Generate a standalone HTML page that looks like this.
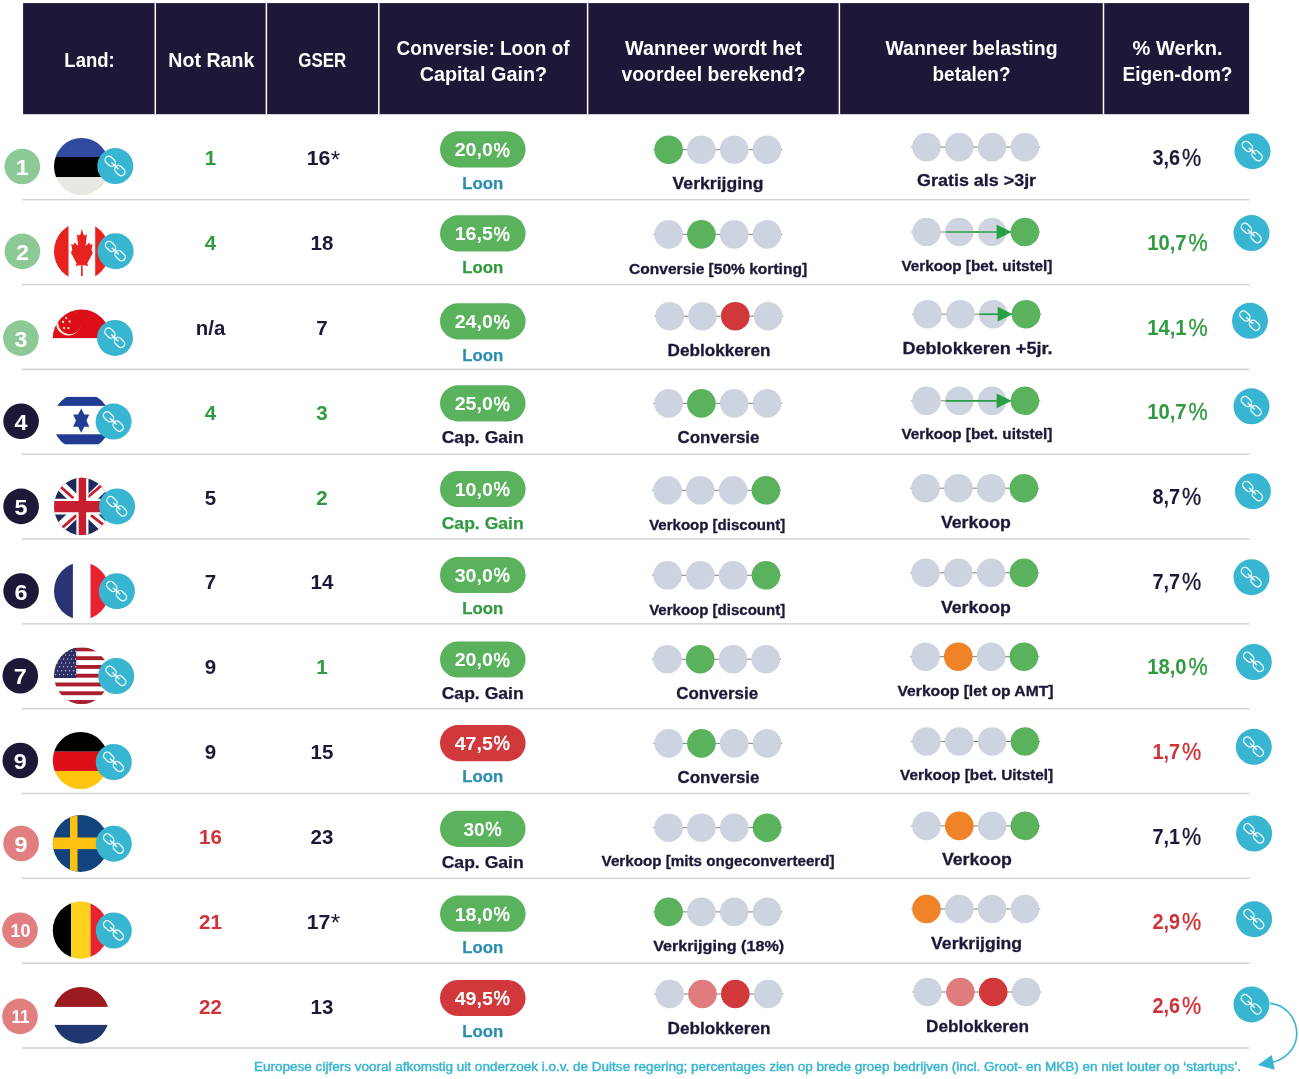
<!DOCTYPE html>
<html lang="nl"><head><meta charset="utf-8"><title>Ranking</title>
<style>html,body{margin:0;padding:0;background:#fff}svg{display:block}text{font-family:"Liberation Sans",sans-serif}</style>
</head><body>
<svg width="1299" height="1079" viewBox="0 0 1299 1079">
<rect x="23.1" y="3.1" width="1226.0" height="111.1" fill="#1e1738"/>
<rect x="154.55" y="3.1" width="1.5" height="111.1" fill="#fff"/>
<rect x="265.65" y="3.1" width="1.5" height="111.1" fill="#fff"/>
<rect x="378.05" y="3.1" width="1.5" height="111.1" fill="#fff"/>
<rect x="586.85" y="3.1" width="1.5" height="111.1" fill="#fff"/>
<rect x="838.65" y="3.1" width="1.5" height="111.1" fill="#fff"/>
<rect x="1102.75" y="3.1" width="1.5" height="111.1" fill="#fff"/>
<text x="89.5" y="67.1" font-size="20" font-weight="bold" fill="#fff" text-anchor="middle" textLength="50.3" lengthAdjust="spacingAndGlyphs">Land:</text>
<text x="211.3" y="67.1" font-size="20" font-weight="bold" fill="#fff" text-anchor="middle" textLength="86.0" lengthAdjust="spacingAndGlyphs">Not Rank</text>
<text x="322.3" y="67.1" font-size="20" font-weight="bold" fill="#fff" text-anchor="middle" textLength="48.0" lengthAdjust="spacingAndGlyphs">GSER</text>
<text x="483.1" y="54.5" font-size="20" font-weight="bold" fill="#fff" text-anchor="middle" textLength="173.0" lengthAdjust="spacingAndGlyphs">Conversie: Loon of</text>
<text x="483.4" y="80.5" font-size="20" font-weight="bold" fill="#fff" text-anchor="middle" textLength="127.5" lengthAdjust="spacingAndGlyphs">Capital Gain?</text>
<text x="713.5" y="54.5" font-size="20" font-weight="bold" fill="#fff" text-anchor="middle" textLength="177.0" lengthAdjust="spacingAndGlyphs">Wanneer wordt het</text>
<text x="713.5" y="80.5" font-size="20" font-weight="bold" fill="#fff" text-anchor="middle" textLength="184.0" lengthAdjust="spacingAndGlyphs">voordeel berekend?</text>
<text x="971.5" y="54.5" font-size="20" font-weight="bold" fill="#fff" text-anchor="middle" textLength="172.0" lengthAdjust="spacingAndGlyphs">Wanneer belasting</text>
<text x="971.5" y="80.5" font-size="20" font-weight="bold" fill="#fff" text-anchor="middle" textLength="78.0" lengthAdjust="spacingAndGlyphs">betalen?</text>
<text x="1177.5" y="54.5" font-size="20" font-weight="bold" fill="#fff" text-anchor="middle" textLength="90.0" lengthAdjust="spacingAndGlyphs">% Werkn.</text>
<text x="1177.5" y="80.5" font-size="20" font-weight="bold" fill="#fff" text-anchor="middle" textLength="110.0" lengthAdjust="spacingAndGlyphs">Eigen-dom?</text>
<rect x="22" y="198.95" width="1227.5" height="1.5" fill="#d2d2d2"/>
<circle cx="22.3" cy="166.5" r="17.8" fill="#8dc897"/>
<text x="22.3" y="175.0" font-size="21.5" font-weight="bold" fill="#fff" text-anchor="middle" textLength="13.0" lengthAdjust="spacingAndGlyphs">1</text>
<g transform="translate(81.6,166.5)"><clipPath id="cee"><ellipse rx="27.6" ry="28.6"/></clipPath><g clip-path="url(#cee)">
<rect x="-31.00" y="-31.00" width="62.00" height="21.50" fill="#2f4a9f"/>
<rect x="-31.00" y="-9.50" width="62.00" height="20.00" fill="#000"/>
<rect x="-31.00" y="10.50" width="62.00" height="31.00" fill="#e9e7e2"/>
</g></g>
<g transform="translate(115.3,166.1)"><circle r="18.0" fill="#38b6d1"/><g fill="none" stroke="#fff" stroke-width="1.35" stroke-opacity="0.93" transform="rotate(44)"><rect x="-12.7" y="-3.6" width="11.4" height="7.4" rx="3.7"/><rect x="0.7" y="-3.6" width="11.4" height="7.4" rx="3.7"/><path d="M-5.2 0.1H4.6" stroke-width="1.4"/></g></g>
<text x="210.5" y="165.0" font-size="20.5" font-weight="bold" fill="#2f9a3f" text-anchor="middle">1</text>
<text x="318.5" y="165.0" font-size="20.5" font-weight="bold" fill="#1e1738" text-anchor="middle" textLength="23.6" lengthAdjust="spacingAndGlyphs">16</text>
<text x="335.4" y="167.5" font-size="24" font-weight="normal" fill="#1e1738" text-anchor="middle">*</text>
<rect x="440.0" y="131.3" width="85.6" height="36.2" rx="18.1" fill="#5ab25c"/>
<text x="454.7" y="156.4" font-size="19.2" font-weight="bold" fill="#fff" text-anchor="start" textLength="38.2" lengthAdjust="spacingAndGlyphs">20,0</text>
<text x="493.5" y="156.7" font-size="20.5" font-weight="normal" fill="#fff" stroke="#fff" stroke-width="0.55" text-anchor="start" textLength="16.4" lengthAdjust="spacingAndGlyphs">%</text>
<text x="482.7" y="188.5" font-size="17.3" font-weight="bold" fill="#2a8daf" stroke="#2a8daf" stroke-width="0.25" text-anchor="middle" textLength="41.0" lengthAdjust="spacingAndGlyphs">Loon</text>
<path d="M653.3 149.7H782.3" stroke="#7d7e85" stroke-width="1"/>
<circle cx="668.6" cy="149.7" r="14.3" fill="#5ab25c"/>
<circle cx="701.4" cy="149.7" r="14.3" fill="#cdd3df"/>
<circle cx="734.2" cy="149.7" r="14.3" fill="#cdd3df"/>
<circle cx="767.0" cy="149.7" r="14.3" fill="#cdd3df"/>
<text x="718.1" y="188.8" font-size="17.3" font-weight="bold" fill="#1e1738" stroke="#1e1738" stroke-width="0.3" text-anchor="middle" textLength="91.0" lengthAdjust="spacingAndGlyphs">Verkrijging</text>
<path d="M911.2 147.1H1040.2" stroke="#7d7e85" stroke-width="1"/>
<circle cx="926.5" cy="147.1" r="14.3" fill="#cdd3df"/>
<circle cx="959.3" cy="147.1" r="14.3" fill="#cdd3df"/>
<circle cx="992.1" cy="147.1" r="14.3" fill="#cdd3df"/>
<circle cx="1024.9" cy="147.1" r="14.3" fill="#cdd3df"/>
<text x="976.6" y="186.0" font-size="17.3" font-weight="bold" fill="#1e1738" stroke="#1e1738" stroke-width="0.3" text-anchor="middle" textLength="119.0" lengthAdjust="spacingAndGlyphs">Gratis als &gt;3jr</text>
<text x="1152.4" y="165.0" font-size="21.5" font-weight="bold" fill="#1e1738" text-anchor="start" textLength="27.6" lengthAdjust="spacingAndGlyphs">3,6</text>
<text x="1181.9" y="165.9" font-size="24.5" font-weight="normal" fill="#1e1738" stroke="#1e1738" stroke-width="0.35" text-anchor="start" textLength="19.2" lengthAdjust="spacingAndGlyphs">%</text>
<g transform="translate(1252.5,151.2)"><circle r="18.0" fill="#38b6d1"/><g fill="none" stroke="#fff" stroke-width="1.35" stroke-opacity="0.93" transform="rotate(44)"><rect x="-12.7" y="-3.6" width="11.4" height="7.4" rx="3.7"/><rect x="0.7" y="-3.6" width="11.4" height="7.4" rx="3.7"/><path d="M-5.2 0.1H4.6" stroke-width="1.4"/></g></g>
<rect x="22" y="283.78" width="1227.5" height="1.5" fill="#d2d2d2"/>
<circle cx="22.4" cy="251.4" r="17.8" fill="#8dc897"/>
<text x="22.4" y="259.9" font-size="21.5" font-weight="bold" fill="#fff" text-anchor="middle" textLength="13.0" lengthAdjust="spacingAndGlyphs">2</text>
<g transform="translate(81.6,251.4)"><clipPath id="cca"><ellipse rx="27.6" ry="28.8"/></clipPath><g clip-path="url(#cca)">
<rect x="-31.00" y="-31.00" width="17.90" height="62.00" fill="#e8231f"/>
<rect x="13.60" y="-31.00" width="31.00" height="62.00" fill="#e8231f"/>
<path fill="#e8231f" d="M0.3 -22.7L1.8 -17.0L3.3 -15.8L5.3 -17.2L4.1 -5.4L7.6 -8.9L8.7 -6.6L11.0 -7.4L9.9 -1.6L11.2 1.5L5.7 11.9L6.4 14.6L1.0 13.6L1.2 24.6L-0.6 24.6L-0.4 13.6L-5.8 14.6L-5.1 11.9L-10.6 1.5L-9.3 -1.6L-10.4 -7.4L-8.1 -6.6L-7.0 -8.9L-3.5 -5.4L-4.7 -17.2L-2.7 -15.8L-1.2 -17.0L0.3 -22.7Z"/>
</g></g>
<g transform="translate(115.6,251.2)"><circle r="18.0" fill="#38b6d1"/><g fill="none" stroke="#fff" stroke-width="1.35" stroke-opacity="0.93" transform="rotate(44)"><rect x="-12.7" y="-3.6" width="11.4" height="7.4" rx="3.7"/><rect x="0.7" y="-3.6" width="11.4" height="7.4" rx="3.7"/><path d="M-5.2 0.1H4.6" stroke-width="1.4"/></g></g>
<text x="210.5" y="249.8" font-size="20.5" font-weight="bold" fill="#2f9a3f" text-anchor="middle">4</text>
<text x="322.0" y="249.8" font-size="20.5" font-weight="bold" fill="#1e1738" text-anchor="middle">18</text>
<rect x="440.0" y="215.3" width="85.6" height="36.2" rx="18.1" fill="#5ab25c"/>
<text x="454.7" y="240.4" font-size="19.2" font-weight="bold" fill="#fff" text-anchor="start" textLength="38.2" lengthAdjust="spacingAndGlyphs">16,5</text>
<text x="493.5" y="240.7" font-size="20.5" font-weight="normal" fill="#fff" stroke="#fff" stroke-width="0.55" text-anchor="start" textLength="16.4" lengthAdjust="spacingAndGlyphs">%</text>
<text x="482.7" y="272.8" font-size="17.3" font-weight="bold" fill="#2f9a3f" stroke="#2f9a3f" stroke-width="0.25" text-anchor="middle" textLength="41.0" lengthAdjust="spacingAndGlyphs">Loon</text>
<path d="M653.3 234.4H782.3" stroke="#7d7e85" stroke-width="1"/>
<circle cx="668.6" cy="234.4" r="14.3" fill="#cdd3df"/>
<circle cx="701.4" cy="234.4" r="14.3" fill="#5ab25c"/>
<circle cx="734.2" cy="234.4" r="14.3" fill="#cdd3df"/>
<circle cx="767.0" cy="234.4" r="14.3" fill="#cdd3df"/>
<text x="718.1" y="274.1" font-size="14" font-weight="bold" fill="#1e1738" stroke="#1e1738" stroke-width="0.3" text-anchor="middle" textLength="178.0" lengthAdjust="spacingAndGlyphs">Conversie [50% korting]</text>
<path d="M911.2 232.0H1040.2" stroke="#7d7e85" stroke-width="1"/>
<circle cx="926.5" cy="232.0" r="14.3" fill="#cdd3df"/>
<circle cx="959.3" cy="232.0" r="14.3" fill="#cdd3df"/>
<circle cx="992.1" cy="232.0" r="14.3" fill="#cdd3df"/>
<circle cx="1024.9" cy="232.0" r="14.3" fill="#5ab25c"/>
<path d="M945.5 232.0H1003.1" stroke="#27a044" stroke-width="1.7"/>
<path d="M996.6 224.6L1011.6 232.0L996.6 239.4Z" fill="#27a044"/>
<text x="976.9" y="270.7" font-size="14" font-weight="bold" fill="#1e1738" stroke="#1e1738" stroke-width="0.3" text-anchor="middle" textLength="151.0" lengthAdjust="spacingAndGlyphs">Verkoop [bet. uitstel]</text>
<text x="1147.3" y="250.2" font-size="21.5" font-weight="bold" fill="#2f9a3f" text-anchor="start" textLength="39.3" lengthAdjust="spacingAndGlyphs">10,7</text>
<text x="1188.5" y="251.1" font-size="24.5" font-weight="normal" fill="#2f9a3f" stroke="#2f9a3f" stroke-width="0.35" text-anchor="start" textLength="19.2" lengthAdjust="spacingAndGlyphs">%</text>
<g transform="translate(1251.5,233.1)"><circle r="18.0" fill="#38b6d1"/><g fill="none" stroke="#fff" stroke-width="1.35" stroke-opacity="0.93" transform="rotate(44)"><rect x="-12.7" y="-3.6" width="11.4" height="7.4" rx="3.7"/><rect x="0.7" y="-3.6" width="11.4" height="7.4" rx="3.7"/><path d="M-5.2 0.1H4.6" stroke-width="1.4"/></g></g>
<rect x="22" y="368.61" width="1227.5" height="1.5" fill="#d2d2d2"/>
<circle cx="20.9" cy="338.1" r="17.8" fill="#8dc897"/>
<text x="20.9" y="346.6" font-size="21.5" font-weight="bold" fill="#fff" text-anchor="middle" textLength="13.0" lengthAdjust="spacingAndGlyphs">3</text>
<g transform="translate(81.6,338.1)"><clipPath id="csg"><ellipse rx="28.8" ry="28.5"/></clipPath><g clip-path="url(#csg)">
<rect x="-31.00" y="-31.00" width="62.00" height="31.00" fill="#dc0f19"/>
<circle cx="-13.1" cy="-15.1" r="12.5" fill="#fff3d8"/><circle cx="-11.7" cy="-15.6" r="11.7" fill="#dc0f19"/>
<circle cx="-15.4" cy="-20" r="1.1" fill="#fff5cf"/>
<circle cx="-18.5" cy="-16.2" r="1.1" fill="#fff5cf"/>
<circle cx="-12" cy="-16.5" r="1.1" fill="#fff5cf"/>
<circle cx="-17.4" cy="-10" r="1.1" fill="#fff5cf"/>
<circle cx="-13.1" cy="-10" r="1.1" fill="#fff5cf"/>
</g></g>
<g transform="translate(115.0,337.9)"><circle r="18.0" fill="#38b6d1"/><g fill="none" stroke="#fff" stroke-width="1.35" stroke-opacity="0.93" transform="rotate(44)"><rect x="-12.7" y="-3.6" width="11.4" height="7.4" rx="3.7"/><rect x="0.7" y="-3.6" width="11.4" height="7.4" rx="3.7"/><path d="M-5.2 0.1H4.6" stroke-width="1.4"/></g></g>
<text x="210.5" y="334.7" font-size="20.5" font-weight="bold" fill="#1e1738" text-anchor="middle" textLength="29.5" lengthAdjust="spacingAndGlyphs">n/a</text>
<text x="322.0" y="334.7" font-size="20.5" font-weight="bold" fill="#1e1738" text-anchor="middle">7</text>
<rect x="440.0" y="303.2" width="85.6" height="36.2" rx="18.1" fill="#5ab25c"/>
<text x="454.7" y="328.2" font-size="19.2" font-weight="bold" fill="#fff" text-anchor="start" textLength="38.2" lengthAdjust="spacingAndGlyphs">24,0</text>
<text x="493.5" y="328.5" font-size="20.5" font-weight="normal" fill="#fff" stroke="#fff" stroke-width="0.55" text-anchor="start" textLength="16.4" lengthAdjust="spacingAndGlyphs">%</text>
<text x="482.7" y="360.5" font-size="17.3" font-weight="bold" fill="#2a8daf" stroke="#2a8daf" stroke-width="0.25" text-anchor="middle" textLength="41.0" lengthAdjust="spacingAndGlyphs">Loon</text>
<path d="M654.4 316.2H783.4" stroke="#7d7e85" stroke-width="1"/>
<circle cx="669.7" cy="316.2" r="14.3" fill="#cdd3df"/>
<circle cx="702.5" cy="316.2" r="14.3" fill="#cdd3df"/>
<circle cx="735.3" cy="316.2" r="14.3" fill="#d0383b"/>
<circle cx="768.1" cy="316.2" r="14.3" fill="#cdd3df"/>
<text x="719.0" y="356.2" font-size="17.3" font-weight="bold" fill="#1e1738" stroke="#1e1738" stroke-width="0.3" text-anchor="middle" textLength="103.0" lengthAdjust="spacingAndGlyphs">Deblokkeren</text>
<path d="M912.3 314.2H1041.3" stroke="#7d7e85" stroke-width="1"/>
<circle cx="927.6" cy="314.2" r="14.3" fill="#cdd3df"/>
<circle cx="960.4" cy="314.2" r="14.3" fill="#cdd3df"/>
<circle cx="993.2" cy="314.2" r="14.3" fill="#cdd3df"/>
<circle cx="1026.0" cy="314.2" r="14.3" fill="#5ab25c"/>
<path d="M979.4 314.2H1004.2" stroke="#27a044" stroke-width="1.7"/>
<path d="M997.7 306.8L1012.7 314.2L997.7 321.6Z" fill="#27a044"/>
<text x="977.5" y="353.5" font-size="17.3" font-weight="bold" fill="#1e1738" stroke="#1e1738" stroke-width="0.3" text-anchor="middle" textLength="150.0" lengthAdjust="spacingAndGlyphs">Deblokkeren +5jr.</text>
<text x="1147.3" y="334.6" font-size="21.5" font-weight="bold" fill="#2f9a3f" text-anchor="start" textLength="39.3" lengthAdjust="spacingAndGlyphs">14,1</text>
<text x="1188.5" y="335.5" font-size="24.5" font-weight="normal" fill="#2f9a3f" stroke="#2f9a3f" stroke-width="0.35" text-anchor="start" textLength="19.2" lengthAdjust="spacingAndGlyphs">%</text>
<g transform="translate(1250.0,320.8)"><circle r="18.0" fill="#38b6d1"/><g fill="none" stroke="#fff" stroke-width="1.35" stroke-opacity="0.93" transform="rotate(44)"><rect x="-12.7" y="-3.6" width="11.4" height="7.4" rx="3.7"/><rect x="0.7" y="-3.6" width="11.4" height="7.4" rx="3.7"/><path d="M-5.2 0.1H4.6" stroke-width="1.4"/></g></g>
<rect x="22" y="453.44" width="1227.5" height="1.5" fill="#d2d2d2"/>
<circle cx="21.1" cy="421.3" r="17.8" fill="#1e1738"/>
<text x="21.1" y="429.8" font-size="21.5" font-weight="bold" fill="#fff" text-anchor="middle" textLength="13.0" lengthAdjust="spacingAndGlyphs">4</text>
<g transform="translate(81.6,421.3)"><clipPath id="cil"><ellipse rx="28.8" ry="28.6"/></clipPath><g clip-path="url(#cil)">
<rect x="-31.00" y="-24.40" width="62.00" height="9.00" fill="#223c93"/>
<rect x="-31.00" y="13.00" width="62.00" height="10.00" fill="#223c93"/>
<path fill="#223c93" transform="translate(-0.4,-0.7)" d="M0-12.1L3.100-6.050H8.100L5.200 0L8.100 6.050H3.100L0 12.100L-3.100 6.050H-8.100L-5.200 0L-8.100-6.050H-3.100Z"/>
</g></g>
<g transform="translate(113.6,421.6)"><circle r="18.0" fill="#38b6d1"/><g fill="none" stroke="#fff" stroke-width="1.35" stroke-opacity="0.93" transform="rotate(44)"><rect x="-12.7" y="-3.6" width="11.4" height="7.4" rx="3.7"/><rect x="0.7" y="-3.6" width="11.4" height="7.4" rx="3.7"/><path d="M-5.2 0.1H4.6" stroke-width="1.4"/></g></g>
<text x="210.5" y="419.6" font-size="20.5" font-weight="bold" fill="#2f9a3f" text-anchor="middle">4</text>
<text x="322.0" y="419.6" font-size="20.5" font-weight="bold" fill="#2f9a3f" text-anchor="middle">3</text>
<rect x="440.0" y="385.3" width="85.6" height="36.2" rx="18.1" fill="#5ab25c"/>
<text x="454.7" y="410.4" font-size="19.2" font-weight="bold" fill="#fff" text-anchor="start" textLength="38.2" lengthAdjust="spacingAndGlyphs">25,0</text>
<text x="493.5" y="410.7" font-size="20.5" font-weight="normal" fill="#fff" stroke="#fff" stroke-width="0.55" text-anchor="start" textLength="16.4" lengthAdjust="spacingAndGlyphs">%</text>
<text x="482.7" y="442.7" font-size="17.3" font-weight="bold" fill="#1e1738" stroke="#1e1738" stroke-width="0.25" text-anchor="middle" textLength="82.0" lengthAdjust="spacingAndGlyphs">Cap. Gain</text>
<path d="M653.3 403.4H782.3" stroke="#7d7e85" stroke-width="1"/>
<circle cx="668.6" cy="403.4" r="14.3" fill="#cdd3df"/>
<circle cx="701.4" cy="403.4" r="14.3" fill="#5ab25c"/>
<circle cx="734.2" cy="403.4" r="14.3" fill="#cdd3df"/>
<circle cx="767.0" cy="403.4" r="14.3" fill="#cdd3df"/>
<text x="718.5" y="443.4" font-size="17.3" font-weight="bold" fill="#1e1738" stroke="#1e1738" stroke-width="0.3" text-anchor="middle" textLength="82.0" lengthAdjust="spacingAndGlyphs">Conversie</text>
<path d="M911.2 400.8H1040.2" stroke="#7d7e85" stroke-width="1"/>
<circle cx="926.5" cy="400.8" r="14.3" fill="#cdd3df"/>
<circle cx="959.3" cy="400.8" r="14.3" fill="#cdd3df"/>
<circle cx="992.1" cy="400.8" r="14.3" fill="#cdd3df"/>
<circle cx="1024.9" cy="400.8" r="14.3" fill="#5ab25c"/>
<path d="M945.5 400.8H1003.1" stroke="#27a044" stroke-width="1.7"/>
<path d="M996.6 393.4L1011.6 400.8L996.6 408.2Z" fill="#27a044"/>
<text x="976.9" y="439.2" font-size="14" font-weight="bold" fill="#1e1738" stroke="#1e1738" stroke-width="0.3" text-anchor="middle" textLength="151.0" lengthAdjust="spacingAndGlyphs">Verkoop [bet. uitstel]</text>
<text x="1147.3" y="419.4" font-size="21.5" font-weight="bold" fill="#2f9a3f" text-anchor="start" textLength="39.3" lengthAdjust="spacingAndGlyphs">10,7</text>
<text x="1188.5" y="420.3" font-size="24.5" font-weight="normal" fill="#2f9a3f" stroke="#2f9a3f" stroke-width="0.35" text-anchor="start" textLength="19.2" lengthAdjust="spacingAndGlyphs">%</text>
<g transform="translate(1251.5,406.3)"><circle r="18.0" fill="#38b6d1"/><g fill="none" stroke="#fff" stroke-width="1.35" stroke-opacity="0.93" transform="rotate(44)"><rect x="-12.7" y="-3.6" width="11.4" height="7.4" rx="3.7"/><rect x="0.7" y="-3.6" width="11.4" height="7.4" rx="3.7"/><path d="M-5.2 0.1H4.6" stroke-width="1.4"/></g></g>
<rect x="22" y="538.27" width="1227.5" height="1.5" fill="#d2d2d2"/>
<circle cx="21.1" cy="506.4" r="17.8" fill="#1e1738"/>
<text x="21.1" y="514.9" font-size="21.5" font-weight="bold" fill="#fff" text-anchor="middle" textLength="13.0" lengthAdjust="spacingAndGlyphs">5</text>
<g transform="translate(81.6,506.4)"><clipPath id="cgb"><ellipse rx="27.6" ry="28.7"/></clipPath><g clip-path="url(#cgb)">
<g transform="translate(0.8,0)">
<rect x="-31.00" y="-31.00" width="62.00" height="62.00" fill="#1f2a5a"/>
<path d="M-30-28.5L30 28.5M30-28.5L-30 28.5" stroke="#fff" stroke-width="10.4"/>
<path d="M-32-28.6L-9-8.200M5-8.900L28.500-29M-28.500 28.600L-5.500 8.500M8.500 8.800L32 27" stroke="#c81e2e" stroke-width="2.8"/>
<path d="M0-30V30" stroke="#fff" stroke-width="12.1"/><path d="M-30 0.2H30" stroke="#fff" stroke-width="15.8"/>
<path d="M0-30V30" stroke="#c81e2e" stroke-width="7.5"/><path d="M-30 0.2H30" stroke="#c81e2e" stroke-width="11.2"/>
</g>
</g></g>
<g transform="translate(117.1,506.4)"><circle r="18.0" fill="#38b6d1"/><g fill="none" stroke="#fff" stroke-width="1.35" stroke-opacity="0.93" transform="rotate(44)"><rect x="-12.7" y="-3.6" width="11.4" height="7.4" rx="3.7"/><rect x="0.7" y="-3.6" width="11.4" height="7.4" rx="3.7"/><path d="M-5.2 0.1H4.6" stroke-width="1.4"/></g></g>
<text x="210.5" y="504.5" font-size="20.5" font-weight="bold" fill="#1e1738" text-anchor="middle">5</text>
<text x="322.0" y="504.5" font-size="20.5" font-weight="bold" fill="#2f9a3f" text-anchor="middle">2</text>
<rect x="440.0" y="470.9" width="85.6" height="36.2" rx="18.1" fill="#5ab25c"/>
<text x="454.7" y="495.9" font-size="19.2" font-weight="bold" fill="#fff" text-anchor="start" textLength="38.2" lengthAdjust="spacingAndGlyphs">10,0</text>
<text x="493.5" y="496.2" font-size="20.5" font-weight="normal" fill="#fff" stroke="#fff" stroke-width="0.55" text-anchor="start" textLength="16.4" lengthAdjust="spacingAndGlyphs">%</text>
<text x="482.7" y="528.7" font-size="17.3" font-weight="bold" fill="#2f9a3f" stroke="#2f9a3f" stroke-width="0.25" text-anchor="middle" textLength="82.0" lengthAdjust="spacingAndGlyphs">Cap. Gain</text>
<path d="M652.2 490.3H781.2" stroke="#7d7e85" stroke-width="1"/>
<circle cx="667.5" cy="490.3" r="14.3" fill="#cdd3df"/>
<circle cx="700.3" cy="490.3" r="14.3" fill="#cdd3df"/>
<circle cx="733.1" cy="490.3" r="14.3" fill="#cdd3df"/>
<circle cx="765.9" cy="490.3" r="14.3" fill="#5ab25c"/>
<text x="717.2" y="529.5" font-size="14" font-weight="bold" fill="#1e1738" stroke="#1e1738" stroke-width="0.3" text-anchor="middle" textLength="136.0" lengthAdjust="spacingAndGlyphs">Verkoop [discount]</text>
<path d="M910.2 488.2H1039.2" stroke="#7d7e85" stroke-width="1"/>
<circle cx="925.5" cy="488.2" r="14.3" fill="#cdd3df"/>
<circle cx="958.3" cy="488.2" r="14.3" fill="#cdd3df"/>
<circle cx="991.1" cy="488.2" r="14.3" fill="#cdd3df"/>
<circle cx="1023.9" cy="488.2" r="14.3" fill="#5ab25c"/>
<text x="975.9" y="528.4" font-size="17.3" font-weight="bold" fill="#1e1738" stroke="#1e1738" stroke-width="0.3" text-anchor="middle" textLength="70.0" lengthAdjust="spacingAndGlyphs">Verkoop</text>
<text x="1152.4" y="504.3" font-size="21.5" font-weight="bold" fill="#1e1738" text-anchor="start" textLength="27.6" lengthAdjust="spacingAndGlyphs">8,7</text>
<text x="1181.9" y="505.2" font-size="24.5" font-weight="normal" fill="#1e1738" stroke="#1e1738" stroke-width="0.35" text-anchor="start" textLength="19.2" lengthAdjust="spacingAndGlyphs">%</text>
<g transform="translate(1252.9,491.2)"><circle r="18.0" fill="#38b6d1"/><g fill="none" stroke="#fff" stroke-width="1.35" stroke-opacity="0.93" transform="rotate(44)"><rect x="-12.7" y="-3.6" width="11.4" height="7.4" rx="3.7"/><rect x="0.7" y="-3.6" width="11.4" height="7.4" rx="3.7"/><path d="M-5.2 0.1H4.6" stroke-width="1.4"/></g></g>
<rect x="22" y="623.10" width="1227.5" height="1.5" fill="#d2d2d2"/>
<circle cx="21.1" cy="591.0" r="17.8" fill="#1e1738"/>
<text x="21.1" y="599.5" font-size="21.5" font-weight="bold" fill="#fff" text-anchor="middle" textLength="13.0" lengthAdjust="spacingAndGlyphs">6</text>
<g transform="translate(81.6,591.0)"><clipPath id="cfr"><ellipse rx="27.6" ry="28.6"/></clipPath><g clip-path="url(#cfr)">
<rect x="-31.00" y="-31.00" width="22.30" height="62.00" fill="#2a3374"/>
<rect x="8.90" y="-31.00" width="31.00" height="62.00" fill="#e8232f"/>
</g></g>
<g transform="translate(116.9,591.2)"><circle r="18.0" fill="#38b6d1"/><g fill="none" stroke="#fff" stroke-width="1.35" stroke-opacity="0.93" transform="rotate(44)"><rect x="-12.7" y="-3.6" width="11.4" height="7.4" rx="3.7"/><rect x="0.7" y="-3.6" width="11.4" height="7.4" rx="3.7"/><path d="M-5.2 0.1H4.6" stroke-width="1.4"/></g></g>
<text x="210.5" y="589.4" font-size="20.5" font-weight="bold" fill="#1e1738" text-anchor="middle">7</text>
<text x="322.0" y="589.4" font-size="20.5" font-weight="bold" fill="#1e1738" text-anchor="middle">14</text>
<rect x="440.0" y="556.9" width="85.6" height="36.2" rx="18.1" fill="#5ab25c"/>
<text x="454.7" y="581.9" font-size="19.2" font-weight="bold" fill="#fff" text-anchor="start" textLength="38.2" lengthAdjust="spacingAndGlyphs">30,0</text>
<text x="493.5" y="582.2" font-size="20.5" font-weight="normal" fill="#fff" stroke="#fff" stroke-width="0.55" text-anchor="start" textLength="16.4" lengthAdjust="spacingAndGlyphs">%</text>
<text x="482.7" y="613.8" font-size="17.3" font-weight="bold" fill="#2f9a3f" stroke="#2f9a3f" stroke-width="0.25" text-anchor="middle" textLength="41.0" lengthAdjust="spacingAndGlyphs">Loon</text>
<path d="M652.2 575.3H781.2" stroke="#7d7e85" stroke-width="1"/>
<circle cx="667.5" cy="575.3" r="14.3" fill="#cdd3df"/>
<circle cx="700.3" cy="575.3" r="14.3" fill="#cdd3df"/>
<circle cx="733.1" cy="575.3" r="14.3" fill="#cdd3df"/>
<circle cx="765.9" cy="575.3" r="14.3" fill="#5ab25c"/>
<text x="717.2" y="614.5" font-size="14" font-weight="bold" fill="#1e1738" stroke="#1e1738" stroke-width="0.3" text-anchor="middle" textLength="136.0" lengthAdjust="spacingAndGlyphs">Verkoop [discount]</text>
<path d="M910.2 572.8H1039.2" stroke="#7d7e85" stroke-width="1"/>
<circle cx="925.5" cy="572.8" r="14.3" fill="#cdd3df"/>
<circle cx="958.3" cy="572.8" r="14.3" fill="#cdd3df"/>
<circle cx="991.1" cy="572.8" r="14.3" fill="#cdd3df"/>
<circle cx="1023.9" cy="572.8" r="14.3" fill="#5ab25c"/>
<text x="975.9" y="613.2" font-size="17.3" font-weight="bold" fill="#1e1738" stroke="#1e1738" stroke-width="0.3" text-anchor="middle" textLength="70.0" lengthAdjust="spacingAndGlyphs">Verkoop</text>
<text x="1152.4" y="589.1" font-size="21.5" font-weight="bold" fill="#1e1738" text-anchor="start" textLength="27.6" lengthAdjust="spacingAndGlyphs">7,7</text>
<text x="1181.9" y="590.0" font-size="24.5" font-weight="normal" fill="#1e1738" stroke="#1e1738" stroke-width="0.35" text-anchor="start" textLength="19.2" lengthAdjust="spacingAndGlyphs">%</text>
<g transform="translate(1251.5,577.2)"><circle r="18.0" fill="#38b6d1"/><g fill="none" stroke="#fff" stroke-width="1.35" stroke-opacity="0.93" transform="rotate(44)"><rect x="-12.7" y="-3.6" width="11.4" height="7.4" rx="3.7"/><rect x="0.7" y="-3.6" width="11.4" height="7.4" rx="3.7"/><path d="M-5.2 0.1H4.6" stroke-width="1.4"/></g></g>
<rect x="22" y="707.93" width="1227.5" height="1.5" fill="#d2d2d2"/>
<circle cx="20.3" cy="675.7" r="17.8" fill="#1e1738"/>
<text x="20.3" y="684.2" font-size="21.5" font-weight="bold" fill="#fff" text-anchor="middle" textLength="13.0" lengthAdjust="spacingAndGlyphs">7</text>
<g transform="translate(81.6,675.7)"><clipPath id="cus"><ellipse rx="27.6" ry="28.5"/></clipPath><g clip-path="url(#cus)">
<rect x="-31.00" y="-28.25" width="62.00" height="3.88" fill="#a91d2d"/>
<rect x="-31.00" y="-19.48" width="62.00" height="3.88" fill="#a91d2d"/>
<rect x="-31.00" y="-10.71" width="62.00" height="3.88" fill="#a91d2d"/>
<rect x="-31.00" y="-1.94" width="62.00" height="3.88" fill="#a91d2d"/>
<rect x="-31.00" y="6.83" width="62.00" height="3.88" fill="#a91d2d"/>
<rect x="-31.00" y="15.60" width="62.00" height="3.88" fill="#a91d2d"/>
<rect x="-31.00" y="24.37" width="62.00" height="3.88" fill="#a91d2d"/>
<rect x="-31.00" y="-31.00" width="25.60" height="33.30" fill="#2c2d64"/>
<circle cx="-26.0" cy="-24.5" r="0.72" fill="#c9cbe0"/>
<circle cx="-22.0" cy="-24.5" r="0.72" fill="#c9cbe0"/>
<circle cx="-18.0" cy="-24.5" r="0.72" fill="#c9cbe0"/>
<circle cx="-14.0" cy="-24.5" r="0.72" fill="#c9cbe0"/>
<circle cx="-10.0" cy="-24.5" r="0.72" fill="#c9cbe0"/>
<circle cx="-6.0" cy="-24.5" r="0.72" fill="#c9cbe0"/>
<circle cx="-24.0" cy="-20.6" r="0.72" fill="#c9cbe0"/>
<circle cx="-20.0" cy="-20.6" r="0.72" fill="#c9cbe0"/>
<circle cx="-16.0" cy="-20.6" r="0.72" fill="#c9cbe0"/>
<circle cx="-12.0" cy="-20.6" r="0.72" fill="#c9cbe0"/>
<circle cx="-8.0" cy="-20.6" r="0.72" fill="#c9cbe0"/>
<circle cx="-4.0" cy="-20.6" r="0.72" fill="#c9cbe0"/>
<circle cx="-26.0" cy="-16.7" r="0.72" fill="#c9cbe0"/>
<circle cx="-22.0" cy="-16.7" r="0.72" fill="#c9cbe0"/>
<circle cx="-18.0" cy="-16.7" r="0.72" fill="#c9cbe0"/>
<circle cx="-14.0" cy="-16.7" r="0.72" fill="#c9cbe0"/>
<circle cx="-10.0" cy="-16.7" r="0.72" fill="#c9cbe0"/>
<circle cx="-6.0" cy="-16.7" r="0.72" fill="#c9cbe0"/>
<circle cx="-24.0" cy="-12.8" r="0.72" fill="#c9cbe0"/>
<circle cx="-20.0" cy="-12.8" r="0.72" fill="#c9cbe0"/>
<circle cx="-16.0" cy="-12.8" r="0.72" fill="#c9cbe0"/>
<circle cx="-12.0" cy="-12.8" r="0.72" fill="#c9cbe0"/>
<circle cx="-8.0" cy="-12.8" r="0.72" fill="#c9cbe0"/>
<circle cx="-4.0" cy="-12.8" r="0.72" fill="#c9cbe0"/>
<circle cx="-26.0" cy="-8.9" r="0.72" fill="#c9cbe0"/>
<circle cx="-22.0" cy="-8.9" r="0.72" fill="#c9cbe0"/>
<circle cx="-18.0" cy="-8.9" r="0.72" fill="#c9cbe0"/>
<circle cx="-14.0" cy="-8.9" r="0.72" fill="#c9cbe0"/>
<circle cx="-10.0" cy="-8.9" r="0.72" fill="#c9cbe0"/>
<circle cx="-6.0" cy="-8.9" r="0.72" fill="#c9cbe0"/>
<circle cx="-24.0" cy="-5.0" r="0.72" fill="#c9cbe0"/>
<circle cx="-20.0" cy="-5.0" r="0.72" fill="#c9cbe0"/>
<circle cx="-16.0" cy="-5.0" r="0.72" fill="#c9cbe0"/>
<circle cx="-12.0" cy="-5.0" r="0.72" fill="#c9cbe0"/>
<circle cx="-8.0" cy="-5.0" r="0.72" fill="#c9cbe0"/>
<circle cx="-4.0" cy="-5.0" r="0.72" fill="#c9cbe0"/>
<circle cx="-26.0" cy="-1.1" r="0.72" fill="#c9cbe0"/>
<circle cx="-22.0" cy="-1.1" r="0.72" fill="#c9cbe0"/>
<circle cx="-18.0" cy="-1.1" r="0.72" fill="#c9cbe0"/>
<circle cx="-14.0" cy="-1.1" r="0.72" fill="#c9cbe0"/>
<circle cx="-10.0" cy="-1.1" r="0.72" fill="#c9cbe0"/>
<circle cx="-6.0" cy="-1.1" r="0.72" fill="#c9cbe0"/>
</g></g>
<g transform="translate(116.2,676.0)"><circle r="18.0" fill="#38b6d1"/><g fill="none" stroke="#fff" stroke-width="1.35" stroke-opacity="0.93" transform="rotate(44)"><rect x="-12.7" y="-3.6" width="11.4" height="7.4" rx="3.7"/><rect x="0.7" y="-3.6" width="11.4" height="7.4" rx="3.7"/><path d="M-5.2 0.1H4.6" stroke-width="1.4"/></g></g>
<text x="210.5" y="674.2" font-size="20.5" font-weight="bold" fill="#1e1738" text-anchor="middle">9</text>
<text x="322.0" y="674.2" font-size="20.5" font-weight="bold" fill="#2f9a3f" text-anchor="middle">1</text>
<rect x="440.0" y="641.4" width="85.6" height="36.2" rx="18.1" fill="#5ab25c"/>
<text x="454.7" y="666.4" font-size="19.2" font-weight="bold" fill="#fff" text-anchor="start" textLength="38.2" lengthAdjust="spacingAndGlyphs">20,0</text>
<text x="493.5" y="666.7" font-size="20.5" font-weight="normal" fill="#fff" stroke="#fff" stroke-width="0.55" text-anchor="start" textLength="16.4" lengthAdjust="spacingAndGlyphs">%</text>
<text x="482.7" y="698.9" font-size="17.3" font-weight="bold" fill="#1e1738" stroke="#1e1738" stroke-width="0.25" text-anchor="middle" textLength="82.0" lengthAdjust="spacingAndGlyphs">Cap. Gain</text>
<path d="M652.1 659.2H781.1" stroke="#7d7e85" stroke-width="1"/>
<circle cx="667.4" cy="659.2" r="14.3" fill="#cdd3df"/>
<circle cx="700.2" cy="659.2" r="14.3" fill="#5ab25c"/>
<circle cx="733.0" cy="659.2" r="14.3" fill="#cdd3df"/>
<circle cx="765.8" cy="659.2" r="14.3" fill="#cdd3df"/>
<text x="717.2" y="698.8" font-size="17.3" font-weight="bold" fill="#1e1738" stroke="#1e1738" stroke-width="0.3" text-anchor="middle" textLength="82.0" lengthAdjust="spacingAndGlyphs">Conversie</text>
<path d="M910.2 656.7H1039.2" stroke="#7d7e85" stroke-width="1"/>
<circle cx="925.5" cy="656.7" r="14.3" fill="#cdd3df"/>
<circle cx="958.3" cy="656.7" r="14.3" fill="#f08328"/>
<circle cx="991.1" cy="656.7" r="14.3" fill="#cdd3df"/>
<circle cx="1023.9" cy="656.7" r="14.3" fill="#5ab25c"/>
<text x="975.5" y="696.2" font-size="14" font-weight="bold" fill="#1e1738" stroke="#1e1738" stroke-width="0.3" text-anchor="middle" textLength="156.0" lengthAdjust="spacingAndGlyphs">Verkoop [let op AMT]</text>
<text x="1147.3" y="673.9" font-size="21.5" font-weight="bold" fill="#2f9a3f" text-anchor="start" textLength="39.3" lengthAdjust="spacingAndGlyphs">18,0</text>
<text x="1188.5" y="674.8" font-size="24.5" font-weight="normal" fill="#2f9a3f" stroke="#2f9a3f" stroke-width="0.35" text-anchor="start" textLength="19.2" lengthAdjust="spacingAndGlyphs">%</text>
<g transform="translate(1253.8,662.0)"><circle r="18.0" fill="#38b6d1"/><g fill="none" stroke="#fff" stroke-width="1.35" stroke-opacity="0.93" transform="rotate(44)"><rect x="-12.7" y="-3.6" width="11.4" height="7.4" rx="3.7"/><rect x="0.7" y="-3.6" width="11.4" height="7.4" rx="3.7"/><path d="M-5.2 0.1H4.6" stroke-width="1.4"/></g></g>
<rect x="22" y="792.76" width="1227.5" height="1.5" fill="#d2d2d2"/>
<circle cx="20.3" cy="760.5" r="17.8" fill="#1e1738"/>
<text x="20.3" y="769.0" font-size="21.5" font-weight="bold" fill="#fff" text-anchor="middle" textLength="13.0" lengthAdjust="spacingAndGlyphs">9</text>
<g transform="translate(80.6,760.5)"><clipPath id="cde"><ellipse rx="27.8" ry="28.6"/></clipPath><g clip-path="url(#cde)">
<rect x="-31.00" y="-31.00" width="62.00" height="22.20" fill="#000"/>
<rect x="-31.00" y="-8.80" width="62.00" height="19.40" fill="#dd0f17"/>
<rect x="-31.00" y="10.50" width="62.00" height="31.00" fill="#fec50c"/>
</g></g>
<g transform="translate(113.8,762.0)"><circle r="18.0" fill="#38b6d1"/><g fill="none" stroke="#fff" stroke-width="1.35" stroke-opacity="0.93" transform="rotate(44)"><rect x="-12.7" y="-3.6" width="11.4" height="7.4" rx="3.7"/><rect x="0.7" y="-3.6" width="11.4" height="7.4" rx="3.7"/><path d="M-5.2 0.1H4.6" stroke-width="1.4"/></g></g>
<text x="210.5" y="759.1" font-size="20.5" font-weight="bold" fill="#1e1738" text-anchor="middle">9</text>
<text x="322.0" y="759.1" font-size="20.5" font-weight="bold" fill="#1e1738" text-anchor="middle">15</text>
<rect x="440.0" y="725.0" width="85.6" height="36.2" rx="18.1" fill="#d0383b"/>
<text x="454.7" y="750.0" font-size="19.2" font-weight="bold" fill="#fff" text-anchor="start" textLength="38.2" lengthAdjust="spacingAndGlyphs">47,5</text>
<text x="493.5" y="750.3" font-size="20.5" font-weight="normal" fill="#fff" stroke="#fff" stroke-width="0.55" text-anchor="start" textLength="16.4" lengthAdjust="spacingAndGlyphs">%</text>
<text x="482.7" y="782.4" font-size="17.3" font-weight="bold" fill="#2a8daf" stroke="#2a8daf" stroke-width="0.25" text-anchor="middle" textLength="41.0" lengthAdjust="spacingAndGlyphs">Loon</text>
<path d="M653.3 743.4H782.3" stroke="#7d7e85" stroke-width="1"/>
<circle cx="668.6" cy="743.4" r="14.3" fill="#cdd3df"/>
<circle cx="701.4" cy="743.4" r="14.3" fill="#5ab25c"/>
<circle cx="734.2" cy="743.4" r="14.3" fill="#cdd3df"/>
<circle cx="767.0" cy="743.4" r="14.3" fill="#cdd3df"/>
<text x="718.5" y="782.7" font-size="17.3" font-weight="bold" fill="#1e1738" stroke="#1e1738" stroke-width="0.3" text-anchor="middle" textLength="82.0" lengthAdjust="spacingAndGlyphs">Conversie</text>
<path d="M911.2 741.5H1040.2" stroke="#7d7e85" stroke-width="1"/>
<circle cx="926.5" cy="741.5" r="14.3" fill="#cdd3df"/>
<circle cx="959.3" cy="741.5" r="14.3" fill="#cdd3df"/>
<circle cx="992.1" cy="741.5" r="14.3" fill="#cdd3df"/>
<circle cx="1024.9" cy="741.5" r="14.3" fill="#5ab25c"/>
<text x="976.6" y="780.3" font-size="14" font-weight="bold" fill="#1e1738" stroke="#1e1738" stroke-width="0.3" text-anchor="middle" textLength="153.0" lengthAdjust="spacingAndGlyphs">Verkoop [bet. Uitstel]</text>
<text x="1152.4" y="759.4" font-size="21.5" font-weight="bold" fill="#cf3339" text-anchor="start" textLength="27.6" lengthAdjust="spacingAndGlyphs">1,7</text>
<text x="1181.9" y="760.3" font-size="24.5" font-weight="normal" fill="#cf3339" stroke="#cf3339" stroke-width="0.35" text-anchor="start" textLength="19.2" lengthAdjust="spacingAndGlyphs">%</text>
<g transform="translate(1253.8,746.8)"><circle r="18.0" fill="#38b6d1"/><g fill="none" stroke="#fff" stroke-width="1.35" stroke-opacity="0.93" transform="rotate(44)"><rect x="-12.7" y="-3.6" width="11.4" height="7.4" rx="3.7"/><rect x="0.7" y="-3.6" width="11.4" height="7.4" rx="3.7"/><path d="M-5.2 0.1H4.6" stroke-width="1.4"/></g></g>
<rect x="22" y="877.59" width="1227.5" height="1.5" fill="#d2d2d2"/>
<circle cx="21.1" cy="843.5" r="17.8" fill="#e17f80"/>
<text x="21.1" y="852.0" font-size="21.5" font-weight="bold" fill="#fff" text-anchor="middle" textLength="13.0" lengthAdjust="spacingAndGlyphs">9</text>
<g transform="translate(80.6,843.5)"><clipPath id="cse"><ellipse rx="27.8" ry="28.4"/></clipPath><g clip-path="url(#cse)">
<rect x="-31.00" y="-31.00" width="62.00" height="62.00" fill="#13437c"/>
<rect x="-10.60" y="-31.00" width="7.50" height="62.00" fill="#fdc10f"/>
<rect x="-31.00" y="-6.00" width="62.00" height="11.60" fill="#fdc10f"/>
</g></g>
<g transform="translate(113.8,843.7)"><circle r="18.0" fill="#38b6d1"/><g fill="none" stroke="#fff" stroke-width="1.35" stroke-opacity="0.93" transform="rotate(44)"><rect x="-12.7" y="-3.6" width="11.4" height="7.4" rx="3.7"/><rect x="0.7" y="-3.6" width="11.4" height="7.4" rx="3.7"/><path d="M-5.2 0.1H4.6" stroke-width="1.4"/></g></g>
<text x="210.5" y="844.0" font-size="20.5" font-weight="bold" fill="#cf3339" text-anchor="middle">16</text>
<text x="322.0" y="844.0" font-size="20.5" font-weight="bold" fill="#1e1738" text-anchor="middle">23</text>
<rect x="440.0" y="810.7" width="85.6" height="36.2" rx="18.1" fill="#5ab25c"/>
<text x="463.4" y="835.7" font-size="19.2" font-weight="bold" fill="#fff" text-anchor="start" textLength="21.2" lengthAdjust="spacingAndGlyphs">30</text>
<text x="485.2" y="836.0" font-size="20.5" font-weight="normal" fill="#fff" stroke="#fff" stroke-width="0.55" text-anchor="start" textLength="16.4" lengthAdjust="spacingAndGlyphs">%</text>
<text x="482.7" y="868.3" font-size="17.3" font-weight="bold" fill="#1e1738" stroke="#1e1738" stroke-width="0.25" text-anchor="middle" textLength="82.0" lengthAdjust="spacingAndGlyphs">Cap. Gain</text>
<path d="M653.3 827.7H782.3" stroke="#7d7e85" stroke-width="1"/>
<circle cx="668.6" cy="827.7" r="14.3" fill="#cdd3df"/>
<circle cx="701.4" cy="827.7" r="14.3" fill="#cdd3df"/>
<circle cx="734.2" cy="827.7" r="14.3" fill="#cdd3df"/>
<circle cx="767.0" cy="827.7" r="14.3" fill="#5ab25c"/>
<text x="718.1" y="866.1" font-size="14" font-weight="bold" fill="#1e1738" stroke="#1e1738" stroke-width="0.3" text-anchor="middle" textLength="233.0" lengthAdjust="spacingAndGlyphs">Verkoop [mits ongeconverteerd]</text>
<path d="M911.2 825.9H1040.2" stroke="#7d7e85" stroke-width="1"/>
<circle cx="926.5" cy="825.9" r="14.3" fill="#cdd3df"/>
<circle cx="959.3" cy="825.9" r="14.3" fill="#f08328"/>
<circle cx="992.1" cy="825.9" r="14.3" fill="#cdd3df"/>
<circle cx="1024.9" cy="825.9" r="14.3" fill="#5ab25c"/>
<text x="976.9" y="865.2" font-size="17.3" font-weight="bold" fill="#1e1738" stroke="#1e1738" stroke-width="0.3" text-anchor="middle" textLength="70.0" lengthAdjust="spacingAndGlyphs">Verkoop</text>
<text x="1152.4" y="843.8" font-size="21.5" font-weight="bold" fill="#1e1738" text-anchor="start" textLength="27.6" lengthAdjust="spacingAndGlyphs">7,1</text>
<text x="1181.9" y="844.7" font-size="24.5" font-weight="normal" fill="#1e1738" stroke="#1e1738" stroke-width="0.35" text-anchor="start" textLength="19.2" lengthAdjust="spacingAndGlyphs">%</text>
<g transform="translate(1254.1,833.5)"><circle r="18.0" fill="#38b6d1"/><g fill="none" stroke="#fff" stroke-width="1.35" stroke-opacity="0.93" transform="rotate(44)"><rect x="-12.7" y="-3.6" width="11.4" height="7.4" rx="3.7"/><rect x="0.7" y="-3.6" width="11.4" height="7.4" rx="3.7"/><path d="M-5.2 0.1H4.6" stroke-width="1.4"/></g></g>
<rect x="22" y="962.42" width="1227.5" height="1.5" fill="#d2d2d2"/>
<circle cx="20.0" cy="930.2" r="17.8" fill="#e17f80"/>
<text x="20.5" y="937.0" font-size="17.5" font-weight="bold" fill="#fff" text-anchor="middle" textLength="20.0" lengthAdjust="spacingAndGlyphs">10</text>
<g transform="translate(80.6,930.2)"><clipPath id="cbe"><ellipse rx="27.8" ry="28.6"/></clipPath><g clip-path="url(#cbe)">
<rect x="-31.00" y="-31.00" width="21.60" height="62.00" fill="#000"/>
<rect x="-9.40" y="-31.00" width="19.30" height="62.00" fill="#fdd11c"/>
<rect x="9.90" y="-31.00" width="31.00" height="62.00" fill="#e8232f"/>
</g></g>
<g transform="translate(113.8,930.5)"><circle r="18.0" fill="#38b6d1"/><g fill="none" stroke="#fff" stroke-width="1.35" stroke-opacity="0.93" transform="rotate(44)"><rect x="-12.7" y="-3.6" width="11.4" height="7.4" rx="3.7"/><rect x="0.7" y="-3.6" width="11.4" height="7.4" rx="3.7"/><path d="M-5.2 0.1H4.6" stroke-width="1.4"/></g></g>
<text x="210.5" y="928.9" font-size="20.5" font-weight="bold" fill="#cf3339" text-anchor="middle">21</text>
<text x="318.5" y="928.9" font-size="20.5" font-weight="bold" fill="#1e1738" text-anchor="middle" textLength="23.6" lengthAdjust="spacingAndGlyphs">17</text>
<text x="335.4" y="931.4" font-size="24" font-weight="normal" fill="#1e1738" text-anchor="middle">*</text>
<rect x="440.0" y="895.6" width="85.6" height="36.2" rx="18.1" fill="#5ab25c"/>
<text x="454.7" y="920.7" font-size="19.2" font-weight="bold" fill="#fff" text-anchor="start" textLength="38.2" lengthAdjust="spacingAndGlyphs">18,0</text>
<text x="493.5" y="921.0" font-size="20.5" font-weight="normal" fill="#fff" stroke="#fff" stroke-width="0.55" text-anchor="start" textLength="16.4" lengthAdjust="spacingAndGlyphs">%</text>
<text x="482.7" y="952.9" font-size="17.3" font-weight="bold" fill="#2a8daf" stroke="#2a8daf" stroke-width="0.25" text-anchor="middle" textLength="41.0" lengthAdjust="spacingAndGlyphs">Loon</text>
<path d="M653.3 911.9H782.3" stroke="#7d7e85" stroke-width="1"/>
<circle cx="668.6" cy="911.9" r="14.3" fill="#5ab25c"/>
<circle cx="701.4" cy="911.9" r="14.3" fill="#cdd3df"/>
<circle cx="734.2" cy="911.9" r="14.3" fill="#cdd3df"/>
<circle cx="767.0" cy="911.9" r="14.3" fill="#cdd3df"/>
<text x="718.7" y="951.1" font-size="14" font-weight="bold" fill="#1e1738" stroke="#1e1738" stroke-width="0.3" text-anchor="middle" textLength="131.0" lengthAdjust="spacingAndGlyphs">Verkrijging (18%)</text>
<path d="M911.2 909.0H1040.2" stroke="#7d7e85" stroke-width="1"/>
<circle cx="926.5" cy="909.0" r="14.3" fill="#f08328"/>
<circle cx="959.3" cy="909.0" r="14.3" fill="#cdd3df"/>
<circle cx="992.1" cy="909.0" r="14.3" fill="#cdd3df"/>
<circle cx="1024.9" cy="909.0" r="14.3" fill="#cdd3df"/>
<text x="976.6" y="948.5" font-size="17.3" font-weight="bold" fill="#1e1738" stroke="#1e1738" stroke-width="0.3" text-anchor="middle" textLength="91.0" lengthAdjust="spacingAndGlyphs">Verkrijging</text>
<text x="1152.4" y="928.6" font-size="21.5" font-weight="bold" fill="#cf3339" text-anchor="start" textLength="27.6" lengthAdjust="spacingAndGlyphs">2,9</text>
<text x="1181.9" y="929.5" font-size="24.5" font-weight="normal" fill="#cf3339" stroke="#cf3339" stroke-width="0.35" text-anchor="start" textLength="19.2" lengthAdjust="spacingAndGlyphs">%</text>
<g transform="translate(1254.1,919.2)"><circle r="18.0" fill="#38b6d1"/><g fill="none" stroke="#fff" stroke-width="1.35" stroke-opacity="0.93" transform="rotate(44)"><rect x="-12.7" y="-3.6" width="11.4" height="7.4" rx="3.7"/><rect x="0.7" y="-3.6" width="11.4" height="7.4" rx="3.7"/><path d="M-5.2 0.1H4.6" stroke-width="1.4"/></g></g>
<rect x="22" y="1047.25" width="1227.5" height="1.5" fill="#d2d2d2"/>
<circle cx="20.0" cy="1016.4" r="17.8" fill="#e17f80"/>
<text x="20.5" y="1023.2" font-size="17.5" font-weight="bold" fill="#fff" text-anchor="middle" textLength="18.0" lengthAdjust="spacingAndGlyphs">11</text>
<g transform="translate(81.1,1015.3)"><clipPath id="cnl"><ellipse rx="28.2" ry="28.4"/></clipPath><g clip-path="url(#cnl)">
<rect x="-31.00" y="-31.00" width="62.00" height="22.60" fill="#9b1b21"/>
<rect x="-31.00" y="9.60" width="62.00" height="31.00" fill="#21366f"/>
</g></g>
<text x="210.5" y="1013.8" font-size="20.5" font-weight="bold" fill="#cf3339" text-anchor="middle">22</text>
<text x="322.0" y="1013.8" font-size="20.5" font-weight="bold" fill="#1e1738" text-anchor="middle">13</text>
<rect x="440.0" y="979.9" width="85.6" height="36.2" rx="18.1" fill="#d0383b"/>
<text x="454.7" y="1004.9" font-size="19.2" font-weight="bold" fill="#fff" text-anchor="start" textLength="38.2" lengthAdjust="spacingAndGlyphs">49,5</text>
<text x="493.5" y="1005.2" font-size="20.5" font-weight="normal" fill="#fff" stroke="#fff" stroke-width="0.55" text-anchor="start" textLength="16.4" lengthAdjust="spacingAndGlyphs">%</text>
<text x="482.7" y="1036.9" font-size="17.3" font-weight="bold" fill="#2a8daf" stroke="#2a8daf" stroke-width="0.25" text-anchor="middle" textLength="41.0" lengthAdjust="spacingAndGlyphs">Loon</text>
<path d="M654.4 994.0H783.4" stroke="#7d7e85" stroke-width="1"/>
<circle cx="669.7" cy="994.0" r="14.3" fill="#cdd3df"/>
<circle cx="702.5" cy="994.0" r="14.3" fill="#e17c7e"/>
<circle cx="735.3" cy="994.0" r="14.3" fill="#d0383b"/>
<circle cx="768.1" cy="994.0" r="14.3" fill="#cdd3df"/>
<text x="719.0" y="1034.3" font-size="17.3" font-weight="bold" fill="#1e1738" stroke="#1e1738" stroke-width="0.3" text-anchor="middle" textLength="103.0" lengthAdjust="spacingAndGlyphs">Deblokkeren</text>
<path d="M912.3 992.0H1041.3" stroke="#7d7e85" stroke-width="1"/>
<circle cx="927.6" cy="992.0" r="14.3" fill="#cdd3df"/>
<circle cx="960.4" cy="992.0" r="14.3" fill="#e17c7e"/>
<circle cx="993.2" cy="992.0" r="14.3" fill="#d0383b"/>
<circle cx="1026.0" cy="992.0" r="14.3" fill="#cdd3df"/>
<text x="977.5" y="1031.6" font-size="17.3" font-weight="bold" fill="#1e1738" stroke="#1e1738" stroke-width="0.3" text-anchor="middle" textLength="103.0" lengthAdjust="spacingAndGlyphs">Deblokkeren</text>
<text x="1152.4" y="1012.7" font-size="21.5" font-weight="bold" fill="#cf3339" text-anchor="start" textLength="27.6" lengthAdjust="spacingAndGlyphs">2,6</text>
<text x="1181.9" y="1013.6" font-size="24.5" font-weight="normal" fill="#cf3339" stroke="#cf3339" stroke-width="0.35" text-anchor="start" textLength="19.2" lengthAdjust="spacingAndGlyphs">%</text>
<g transform="translate(1251.5,1004.4)"><circle r="18.0" fill="#38b6d1"/><g fill="none" stroke="#fff" stroke-width="1.35" stroke-opacity="0.93" transform="rotate(44)"><rect x="-12.7" y="-3.6" width="11.4" height="7.4" rx="3.7"/><rect x="0.7" y="-3.6" width="11.4" height="7.4" rx="3.7"/><path d="M-5.2 0.1H4.6" stroke-width="1.4"/></g></g>
<text x="254.0" y="1071.0" font-size="12.4" font-weight="normal" fill="#38b6d1" stroke="#38b6d1" stroke-width="0.45" text-anchor="start" textLength="987.0" lengthAdjust="spacingAndGlyphs">Europese cijfers vooral afkomstig uit onderzoek i.o.v. de Duitse regering; percentages zien op brede groep bedrijven (incl. Groot- en MKB) en niet louter op ‘startups’.</text>
<path d="M1270 1003.4C1300 1006 1310 1052 1272 1062.6" fill="none" stroke="#38b6d1" stroke-width="1.6"/>
<path d="M1257.8 1065L1271.8 1055L1274.8 1069.8Z" fill="#38b6d1"/>
</svg>
</body></html>
